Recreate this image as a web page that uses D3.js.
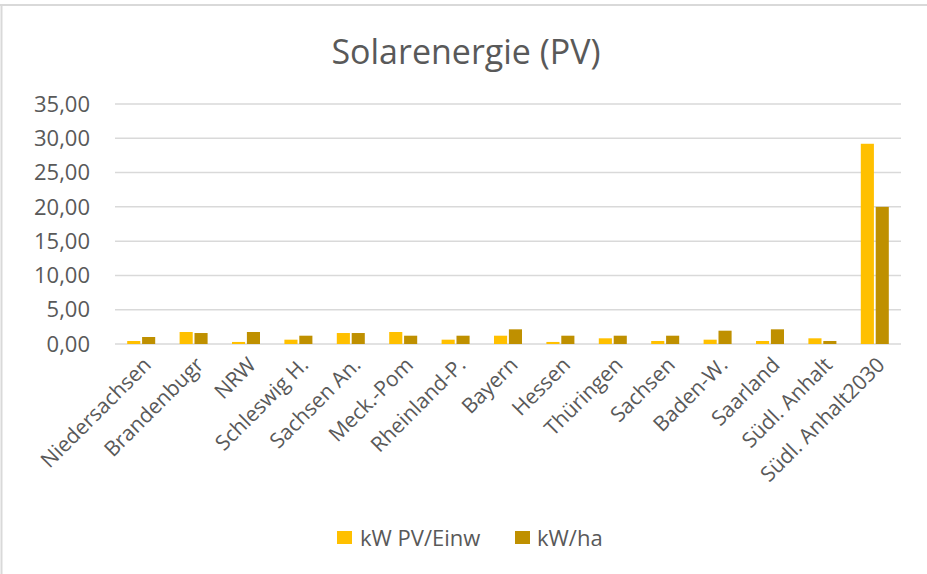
<!DOCTYPE html>
<html><head><meta charset="utf-8">
<script src="https://cdn.jsdelivr.net/npm/d3@7"></script>
<style>body{margin:0;background:#fff;} svg{display:block;font-family:"Open Sans",sans-serif;}</style>
</head><body>
<svg id="c" width="927" height="574"></svg>
<script>
const categories = ["Niedersachsen","Brandenbugr","NRW","Schleswig H.","Sachsen An.","Meck.-Pom","Rheinland-P.","Bayern","Hessen","Thüringen","Sachsen","Baden-W.","Saarland","Südl. Anhalt","Südl. Anhalt2030"];
const seriesNames = ["kW PV/Einw","kW/ha"];
const pvEinw = [0.44,1.75,0.30,0.63,1.60,1.75,0.63,1.21,0.30,0.83,0.44,0.63,0.44,0.83,29.2];
const kwHa   = [1.02,1.60,1.75,1.21,1.60,1.21,1.21,2.14,1.21,1.21,1.21,1.94,2.14,0.44,20.0];
const yTicks = [0,5,10,15,20,25,30,35];
const colors = ["#FFC000","#BF9000"];

const svg = d3.select("#c");
// chart border
svg.append("line").attr("x1",0).attr("x2",927).attr("y1",5).attr("y2",5).attr("stroke","#d9d9d9").attr("stroke-width",2);
svg.append("line").attr("x1",1.5).attr("x2",1.5).attr("y1",4).attr("y2",574).attr("stroke","#d9d9d9").attr("stroke-width",2);

const x = d3.scaleBand().domain(categories).range([115,901]);
const y = d3.scaleLinear().domain([0,35]).range([344,104]);

svg.append("text").attr("x",466).attr("y",64).attr("text-anchor","middle")
  .attr("font-size",34).attr("fill","#595959").text("Solarenergie (PV)");

// gridlines
svg.append("g").selectAll("line").data(yTicks).join("line")
  .attr("x1",115).attr("x2",901).attr("y1",d=>y(d)).attr("y2",d=>y(d))
  .attr("stroke","#d9d9d9").attr("stroke-width",1.5);

// y axis labels
const fmt = d => d3.format(".2f")(d).replace(".",",");
svg.append("g").selectAll("text").data(yTicks).join("text")
  .attr("x",90).attr("y",d=>y(d)).attr("dy","0.35em").attr("text-anchor","end")
  .attr("font-size",22).attr("fill","#595959").text(fmt);

// bars
const sub = d3.scaleBand().domain([0,1]).range([-14,14]).paddingInner(0.12);
const series = [pvEinw, kwHa];
series.forEach((vals,si)=>{
  svg.append("g").selectAll("rect").data(vals).join("rect")
    .attr("x",(d,i)=>x(categories[i])+x.bandwidth()/2+sub(si))
    .attr("width",sub.bandwidth())
    .attr("y",d=>y(d)).attr("height",d=>y(0)-y(d))
    .attr("fill",colors[si]);
});

// x labels
svg.append("g").selectAll("text").data(categories).join("text")
  .attr("transform",d=>`translate(${x(d)+x.bandwidth()/2+6},361) rotate(-45)`)
  .attr("text-anchor","end").attr("dy","0.35em")
  .attr("font-size",21).attr("fill","#595959").text(d=>d);

// legend
const leg = [{x:337,tx:360},{x:515,tx:537}];
seriesNames.forEach((n,i)=>{
  svg.append("rect").attr("x",leg[i].x).attr("y",531).attr("width",15).attr("height",13).attr("fill",colors[i]);
  svg.append("text").attr("x",leg[i].tx).attr("y",538).attr("dy","0.35em")
    .attr("font-size",22).attr("fill","#595959").text(n);
});
</script>
</body></html>
